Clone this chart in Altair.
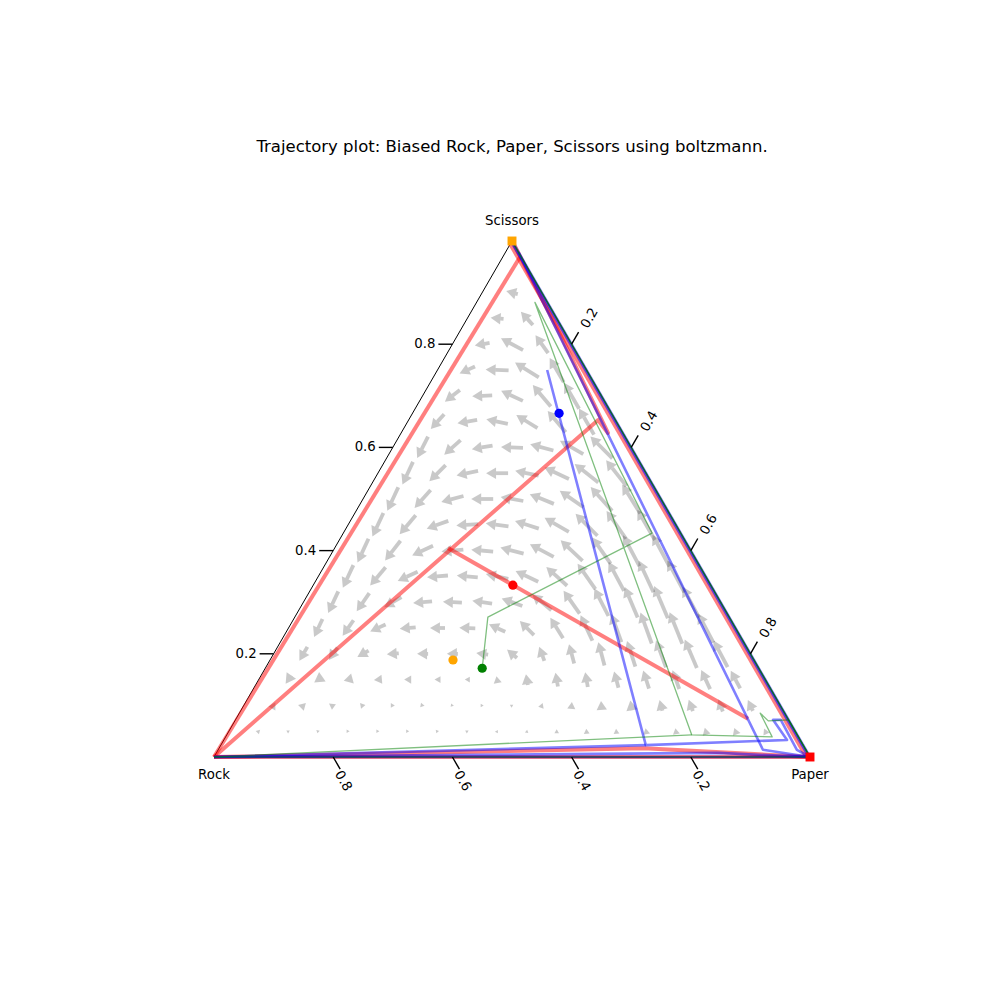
import math
import altair as alt
import pandas as pd

SQ3 = math.sqrt(3) / 2          # height of the unit simplex
PX = 1 / 596                     # one screen pixel in plot units (side = 596 px)

title_text = "Trajectory plot: Biased Rock, Paper, Scissors using boltzmann."
corner_names = ["Rock", "Paper", "Scissors"]
tick_values = [0.2, 0.4, 0.6, 0.8]

# ---- vector field: one list per lattice row (scissors = j/20),
#      items run left->right (paper = i/20); direction in degrees (0 = right, 90 = up), length in px
arrow_angle_rows = [
    [45, 30, 20, 0, 0, 0, 10, 30, 60, 80, 90, 95, 95, 100, 100, 105, 110, 115],
    [60, 45, 25, 10, 0, 350, 350, 0, 30, 70, 85, 95, 100, 105, 110, 110, 115],
    [235, 215, 195, 185, 180, 180, 180, 100, 100, 100, 100, 105, 108, 110, 115, 118],
    [240, 235, 210, 185, 180, 180, 172, 140, 110, 105, 105, 108, 110, 113, 118],
    [245, 235, 205, 185, 180, 178, 155, 135, 122, 115, 110, 110, 112, 118],
    [245, 235, 210, 185, 178, 172, 160, 140, 125, 117, 113, 113, 118],
    [245, 230, 205, 185, 175, 168, 155, 138, 125, 118, 115, 118],
    [245, 232, 205, 185, 175, 165, 152, 137, 125, 118, 118],
    [245, 230, 200, 183, 172, 162, 150, 135, 125, 120],
    [245, 228, 195, 180, 170, 158, 145, 132, 122],
    [245, 225, 192, 180, 168, 155, 142, 128],
    [243, 222, 190, 178, 165, 150, 135],
    [228, 190, 168, 148, 130, 120],
    [218, 182, 155, 130, 120],
    [205, 178, 148, 120],
    [190, 152, 125],
    [175, 132],
    [165],
]
arrow_len_rows = [
    [4, 3, 2, 2, 2, 2, 2, 2, 2, 3, 4, 5, 5, 6, 6, 7, 7, 6],
    [7, 7, 6, 5, 4, 4, 3, 3, 3, 5, 7, 9, 10, 11, 12, 13, 12],
    [10, 10, 9, 8, 7, 6, 5, 7, 11, 14, 15, 17, 19, 20, 21, 20],
    [16, 15, 13, 12, 11, 11, 12, 13, 15, 20, 24, 27, 29, 31, 30],
    [20, 19, 17, 16, 15, 16, 18, 20, 24, 28, 30, 33, 34, 33],
    [24, 22, 20, 19, 19, 20, 22, 25, 28, 31, 33, 35, 35],
    [25, 24, 22, 21, 21, 23, 25, 28, 31, 33, 35, 36],
    [26, 25, 23, 22, 22, 24, 27, 30, 32, 35, 36],
    [26, 25, 23, 22, 23, 25, 28, 31, 34, 35],
    [26, 24, 23, 22, 23, 26, 29, 32, 34],
    [25, 23, 22, 22, 24, 27, 30, 33],
    [24, 22, 21, 22, 24, 27, 31],
    [20, 20, 22, 25, 28, 30],
    [19, 20, 24, 28, 30],
    [17, 23, 28, 28],
    [15, 25, 22],
    [13, 18],
    [12],
]

# ---- trajectories, ternary (rock, paper, scissors); each list holds the visible pieces
red_pieces = [
    [(0.067, 0.859, 0.074), (0.405, 0.190, 0.405)],
    [(1.0, 0.0, 0.0), (0.029, 0.318, 0.653), (0.025, 0.347, 0.628), (0.010, 0.172, 0.818), (0.0, 0.008, 0.992)],
    [(0.002, 0.029, 0.969), (1.0, 0.0, 0.0)],
    [(0.006, 0.0, 0.994), (0.006, 0.994, 0.0)],
    [(1.0, 0.0, 0.0), (0.0, 1.0, 0.0)],
    [(1.0, 0.0, 0.0), (0.27, 0.713, 0.017), (0.0, 1.0, 0.0)],
]
blue_pieces = [
    [(0.066, 0.184, 0.750), (0.264, 0.713, 0.023), (0.022, 0.945, 0.033), (0.026, 0.902, 0.072),
     (0.013, 0.915, 0.072), (0.015, 0.971, 0.014), (0.0, 1.0, 0.0)],
    [(0.0, 0.022, 0.978), (0.072, 0.914, 0.014), (0.0, 1.0, 0.0)],
    [(1.0, 0.0, 0.0), (0.264, 0.713, 0.023)],
    [(0.0, 0.0, 1.0), (0.0, 1.0, 0.0)],
    [(0.002, 0.0, 0.998), (0.002, 0.998, 0.0)],
    [(1.0, 0.0, 0.0), (0.0, 1.0, 0.0)],
    [(1.0, 0.0, 0.0), (0.15, 0.842, 0.008), (0.0, 1.0, 0.0)],
]
green_pieces = [
    [(0.464, 0.364, 0.172), (0.405, 0.324, 0.271), (0.048, 0.518, 0.434), (0.021, 0.098, 0.881),
     (0.177, 0.780, 0.043), (0.044, 0.917, 0.039), (0.041, 0.874, 0.085), (0.035, 0.895, 0.070),
     (0.0, 0.928, 0.072), (0.0, 1.0, 0.0)],
    [(1.0, 0.0, 0.0), (0.177, 0.780, 0.043)],
    [(0.0, 0.0, 1.0), (0.0, 1.0, 0.0)],
    [(0.0, 0.0, 1.0), (0.0, 1.0, 0.0)],
    [(1.0, 0.0, 0.0), (0.0, 1.0, 0.0)],
]
orange_pieces = [
    [(0.0, 1.0, 0.0), (0.0, 0.0, 1.0)],
]

start_points = [  # (colour, rock, paper, scissors)
    ("#ff0000", 0.332, 0.335, 0.333),
    ("#0000ff", 0.088, 0.246, 0.666),
    ("#008000", 0.464, 0.364, 0.172),
    ("#ffa500", 0.505, 0.307, 0.188),
]
end_points = [
    ("#ffa500", 0.0, 0.0, 1.0),
    ("#ff0000", 0.0, 1.0, 0.0),
]


def proj(paper, scissors):
    return paper + scissors / 2, scissors * SQ3


# ---------- arrow table
shafts, heads = [], []
HW = 11.5            # head width, px
HL = HW * 0.866      # head length, px
for j, (angs, lens) in enumerate(zip(arrow_angle_rows, arrow_len_rows), start=1):
    for i, (a, L) in enumerate(zip(angs, lens), start=1):
        cx, cy = proj(i / 20, j / 20)
        ux, uy = math.cos(math.radians(a)), math.sin(math.radians(a))
        tipx, tipy = cx + ux * L / 2 * PX, cy + uy * L / 2 * PX
        tailx, taily = cx - ux * L / 2 * PX, cy - uy * L / 2 * PX
        rot = (90 - a) % 360
        if L > HL:
            bx, by = tipx - ux * HL * PX, tipy - uy * HL * PX
            shafts.append({"x": tailx, "y": taily, "x2": bx, "y2": by})
            heads.append({"x": tipx - ux * HL / 2 * PX, "y": tipy - uy * HL / 2 * PX,
                          "sz": HW * HW, "ang": rot})
        else:
            w = max(L, 3.0) / 0.866
            heads.append({"x": cx, "y": cy, "sz": w * w, "ang": rot})
shaft_df = pd.DataFrame(shafts)
head_df = pd.DataFrame(heads)

X = alt.X("x:Q", scale=alt.Scale(domain=[0, 1], nice=False, zero=False), axis=None)
Y = alt.Y("y:Q", scale=alt.Scale(domain=[0, SQ3], nice=False, zero=False), axis=None)

layers = []
layers.append(alt.Chart(shaft_df).mark_rule(color="black", opacity=0.21, strokeWidth=3.8, strokeCap="butt")
              .encode(x=X, y=Y, x2="x2:Q", y2="y2:Q"))
layers.append(alt.Chart(head_df).mark_point(shape="triangle-up", filled=True, color="black",
                                            opacity=0.21, strokeWidth=0)
              .encode(x=X, y=Y, size=alt.Size("sz:Q", scale=None), angle=alt.Angle("ang:Q", scale=None)))

# ---------- triangle frame
frame = []
for k, (r, p, s) in enumerate([(1, 0, 0), (0, 1, 0), (0, 0, 1), (1, 0, 0)]):
    x, y = proj(p, s)
    frame.append({"x": x, "y": y, "idx": k})
layers.append(alt.Chart(pd.DataFrame(frame)).mark_line(color="black", strokeWidth=1)
              .encode(x=X, y=Y, order="idx:Q"))


def piece_df(pieces):
    rows = []
    for n, piece in enumerate(pieces):
        for k, (r, p, s) in enumerate(piece):
            x, y = proj(p, s)
            rows.append({"x": x, "y": y, "piece": n, "idx": k})
    return pd.DataFrame(rows)


for pieces, col, sw in [(orange_pieces, "#ffa500", 1.5), (red_pieces, "#ff0000", 4.0),
                        (blue_pieces, "#0000ff", 2.6), (green_pieces, "#008000", 1.3)]:
    layers.append(alt.Chart(piece_df(pieces)).mark_line(color=col, opacity=0.5, strokeWidth=sw,
                                                        strokeJoin="round", strokeCap="butt")
                  .encode(x=X, y=Y, detail="piece:N", order="idx:Q"))

# ---------- start dots and end squares
sp = pd.DataFrame([{"x": proj(p, s)[0], "y": proj(p, s)[1], "c": c} for c, r, p, s in start_points])
layers.append(alt.Chart(sp).mark_circle(size=85, opacity=1)
              .encode(x=X, y=Y, color=alt.Color("c:N", scale=None)))
ep = pd.DataFrame([{"x": proj(p, s)[0], "y": proj(p, s)[1], "c": c} for c, r, p, s in end_points])
layers.append(alt.Chart(ep).mark_square(size=80, opacity=1)
              .encode(x=X, y=Y, color=alt.Color("c:N", scale=None)))

# ---------- ticks and tick labels
TL = 14 * PX
c60, s60 = 0.5, SQ3
left_t, right_t, bottom_t = [], [], []
for v in tick_values:
    lbl = f"{v:.1f}"
    # left edge: scissors share
    x, y = proj(0, v)
    left_t.append({"x": x, "y": y, "x2": x - TL, "y2": y, "lx": x - TL - 3 * PX, "ly": y, "t": lbl})
    # right edge: paper share
    x, y = proj(v, 1 - v)
    right_t.append({"x": x, "y": y, "x2": x + c60 * TL, "y2": y + s60 * TL,
                    "lx": x + 18 * PX, "ly": y + 26 * PX, "t": lbl})
    # bottom edge: rock share
    x, y = proj(1 - v, 0)
    bottom_t.append({"x": x, "y": y, "x2": x + c60 * TL, "y2": y - s60 * TL,
                     "lx": x + 10 * PX, "ly": y - 24 * PX, "t": lbl})

for tdf, ang, align in [(left_t, 0, "right"), (right_t, 300, "center"), (bottom_t, 60, "center")]:
    df = pd.DataFrame(tdf)
    layers.append(alt.Chart(df).mark_rule(color="black", strokeWidth=1.4)
                  .encode(x=X, y=Y, x2="x2:Q", y2="y2:Q"))
    layers.append(alt.Chart(df).mark_text(font="DejaVu Sans", fontSize=13.3, angle=ang, align=align,
                                          baseline="middle", color="black")
                  .encode(x=alt.X("lx:Q", scale=alt.Scale(domain=[0, 1], nice=False, zero=False), axis=None),
                          y=alt.Y("ly:Q", scale=alt.Scale(domain=[0, SQ3], nice=False, zero=False), axis=None),
                          text="t:N"))

# ---------- corner names
cn = []
for name, (p, s, off) in zip(corner_names, [(0, 0, -18), (1, 0, -18), (0, 1, 20)]):
    x, y = proj(p, s)
    cn.append({"x": x, "y": y + off * PX, "t": name})
layers.append(alt.Chart(pd.DataFrame(cn)).mark_text(font="DejaVu Sans", fontSize=13.3, align="center",
                                                    baseline="middle", color="black")
              .encode(x=X, y=Y, text="t:N"))

# ---------- title
layers.append(alt.Chart(pd.DataFrame({"t": [title_text]})).mark_text(
    font="DejaVu Sans", fontSize=16.5, align="center", baseline="middle", color="black")
    .encode(x=alt.value(298), y=alt.value(-94), text="t:N"))

chart = alt.layer(*layers).properties(
    width=596, height=516,
    autosize=alt.AutoSizeParams(type="none"),
    padding={"left": 214, "top": 241, "right": 190, "bottom": 243},
    background="white",
).configure_view(strokeWidth=0)

chart.save("out.html", embed_options={"renderer": "svg", "actions": False})
